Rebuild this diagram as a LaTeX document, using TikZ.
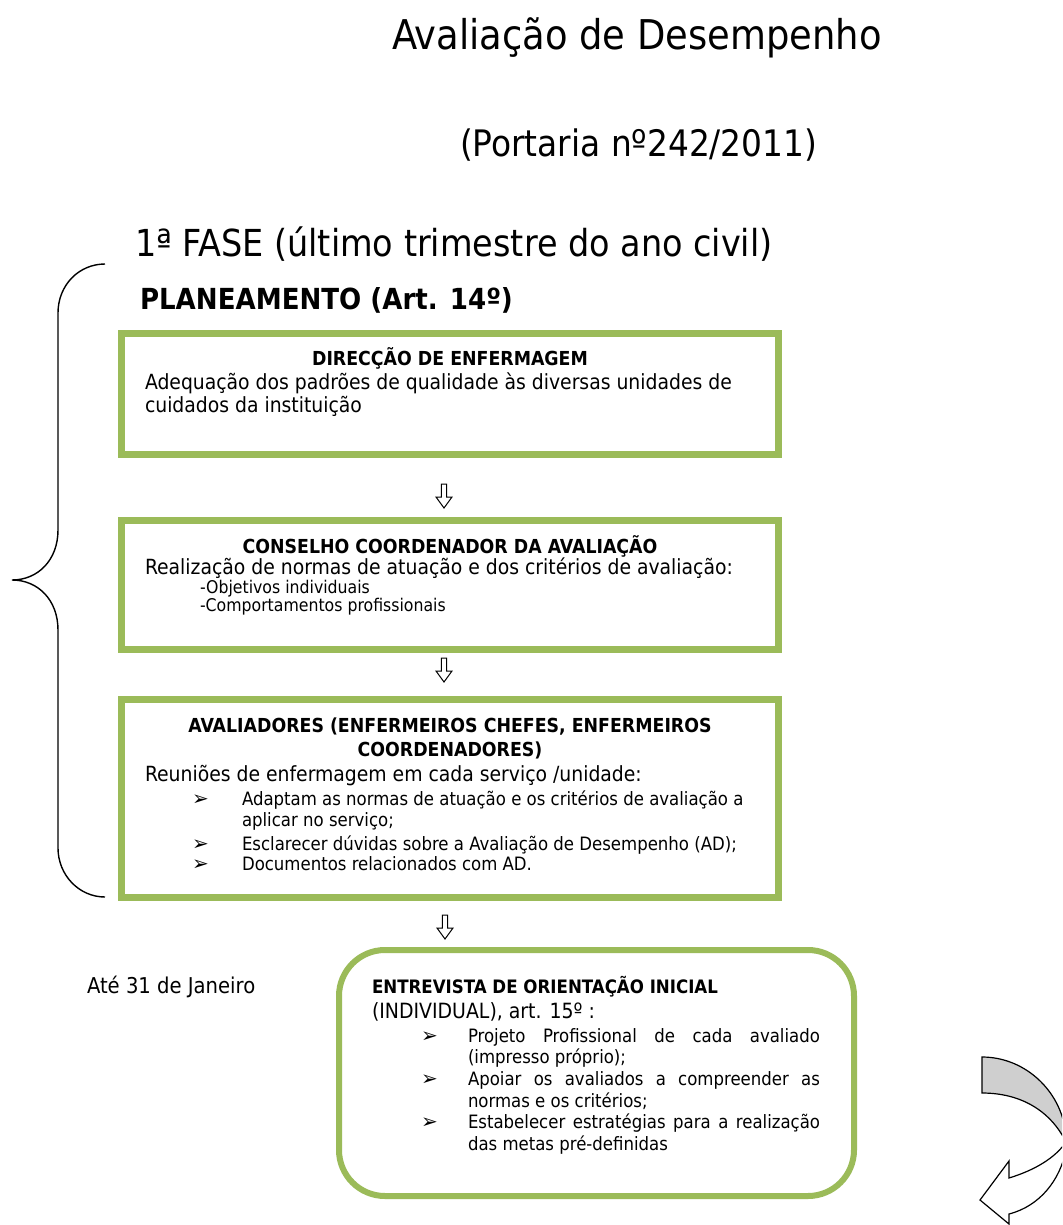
\documentclass[tikz,border=0pt]{standalone}
\usepackage{fontspec}
\setmainfont{DejaVu Sans Condensed}[BoldFont={DejaVu Sans Condensed Bold}]
\newfontfamily\symfont{DejaVu Sans}
\usetikzlibrary{calc}
\definecolor{boxgreen}{HTML}{9BBB59}
\definecolor{arrowgray}{HTML}{CFCFCF}
\tikzset{
  gbox/.style={draw=boxgreen, line width=7pt, inner sep=0pt},
  rbox/.style={draw=boxgreen, line width=6pt, rounded corners=46pt, inner sep=0pt},
  txt/.style={anchor=base west, inner sep=0pt, outer sep=0pt},
  ctxt/.style={anchor=base, inner sep=0pt, outer sep=0pt},
  fbody/.style={font=\fontsize{20.9}{22}\selectfont},
  fhead/.style={font=\fontsize{19.3}{21}\selectfont\bfseries},
  fsmall/.style={font=\fontsize{17.5}{18}\selectfont},
  fbul/.style={font=\fontsize{18.4}{20}\selectfont},
  fsym/.style={font=\fontsize{20}{20}\symfont},
  arrowline/.style={draw=black, line width=1pt, fill=white, line join=miter},
  hollowdown/.pic={\draw[arrowline] (-2.6,0) -- (2.6,0) -- (2.6,13) -- (8,13) -- (0,24) -- (-8,13) -- (-2.6,13) -- cycle;},
  bracestyle/.style={draw=black, line width=1.4pt},
  curvestyle/.style={draw=black, line width=1.2pt, line join=miter}
}
\begin{document}
\begin{tikzpicture}[x=1pt,y=-1pt]
\useasboundingbox (0,0) rectangle (1062,1225);
\fill[white] (0,0) rectangle (1062,1225);
\clip (0,0) rectangle (1062,1225);

% titles
\node[txt, font=\fontsize{41}{45}\selectfont] (title) at (392,50) {Avaliação de Desempenho};
\node[txt, font=\fontsize{36.5}{40}\selectfont] (port) at (460,157) {(Portaria nº242/2011)};
\node[txt, font=\fontsize{37.2}{40}\selectfont] (fase) at (135,256) {1ª FASE (último trimestre do ano civil)};
\node[txt, font=\fontsize{29}{32}\selectfont\bfseries] (plan) at (140,309) {PLANEAMENTO (Art. 14º)};

% brace
\draw[bracestyle] (105,264) .. controls (79,264) and (58,285) .. (58,313) -- (58,530)
  .. controls (58,560) and (38,580) .. (12,580) .. controls (38,580) and (58,600) .. (58,630)
  -- (58,848) .. controls (58,875) and (79,897) .. (105,897);

% boxes
\node[gbox, minimum width=657pt, minimum height=121pt] (b1) at (450,394) {};
\node[gbox, minimum width=657pt, minimum height=129pt] (b2) at (450,585) {};
\node[gbox, minimum width=657pt, minimum height=198pt] (b3) at (450,798.5) {};
\node[rbox, minimum width=515pt, minimum height=246pt] (b4) at (596.5,1073) {};

% hollow arrows between boxes
\pic at ($(b1.south)+(-6,26)$) {hollowdown};
\pic at ($(b2.south)+(-6,5)$) {hollowdown};
\pic at ($(b3.south)+(-5,14)$) {hollowdown};

% box 1
\node[ctxt, fhead] (h1) at (450,365) {DIRECÇÃO DE ENFERMAGEM};
\node[txt, fbody] (l11) at (145,389) {Adequação dos padrões de qualidade às diversas unidades de};
\node[txt, fbody] (l12) at (145,412) {cuidados da instituição};

% box 2
\node[ctxt, fhead] (h2) at (450,553) {CONSELHO COORDENADOR DA AVALIAÇÃO};
\node[txt, fbody] (l21) at (145,574) {Realização de normas de atuação e dos critérios de avaliação:};
\node[txt, fsmall] (l22) at (200,593) {-Objetivos individuais};
\node[txt, fsmall] (l23) at (200,611) {-Comportamentos profissionais};

% box 3
\node[ctxt, fhead] (h3a) at (450,732) {AVALIADORES (ENFERMEIROS CHEFES, ENFERMEIROS};
\node[ctxt, fhead] (h3b) at (450,756) {COORDENADORES)};
\node[txt, fbody] (l31) at (145,781) {Reuniões de enfermagem em cada serviço /unidade:};
\node[txt, fsym] (k31) at (192,805) {➢};
\node[txt, fbul] (l32) at (242,805) {Adaptam as normas de atuação e os critérios de avaliação a};
\node[txt, fbul] (l33) at (242,826) {aplicar no serviço;};
\node[txt, fsym] (k32) at (192,850) {➢};
\node[txt, fbul] (l34) at (242,850) {Esclarecer dúvidas sobre a Avaliação de Desempenho (AD);};
\node[txt, fsym] (k33) at (192,870) {➢};
\node[txt, fbul] (l35) at (242,870) {Documentos relacionados com AD.};

% left label
\node[txt, font=\fontsize{21.8}{24}\selectfont] (ate) at (87,993) {Até 31 de Janeiro};

% box 4
\node[txt, font=\fontsize{18.5}{20}\selectfont\bfseries] (h4) at (372,993) {ENTREVISTA DE ORIENTAÇÃO INICIAL};
\node[txt, font=\fontsize{21}{22}\selectfont] (l41) at (372,1018) {(INDIVIDUAL), art. 15º :};
\node[txt, fsym] (k41) at (421,1042) {➢};
\node[txt, fbul] (l42) at (468,1042) {\makebox[352pt][s]{Projeto Profissional de cada avaliado}};
\node[txt, fbul] (l43) at (468,1063) {(impresso próprio);};
\node[txt, fsym] (k42) at (421,1085) {➢};
\node[txt, fbul] (l44) at (468,1085) {\makebox[352pt][s]{Apoiar os avaliados a compreender as}};
\node[txt, fbul] (l45) at (468,1107) {normas e os critérios;};
\node[txt, fsym] (k43) at (421,1128) {➢};
\node[txt, fbul] (l46) at (468,1128) {\makebox[352pt][s]{Estabelecer estratégias para a realização}};
\node[txt, fbul] (l47) at (468,1150) {das metas pré-definidas};

% curved arrow (bottom right)
\draw[curvestyle, fill=arrowgray] (982,1057) .. controls (1027,1057) and (1064,1094) .. (1066,1138)
  -- (1066,1142) .. controls (1050,1110) and (1020,1093) .. (982,1093) -- cycle;
\draw[curvestyle, fill=white] (1066,1142) .. controls (1055,1158) and (1035,1170) .. (1009,1178)
  -- (1009,1161) -- (980,1200) -- (1009,1224) -- (1009,1214)
  .. controls (1040,1206) and (1060,1180) .. (1066,1150) -- cycle;
\end{tikzpicture}
\end{document}
